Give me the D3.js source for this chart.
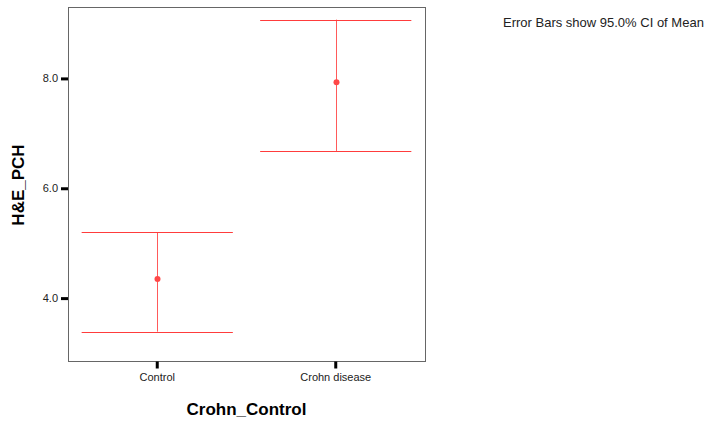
<!DOCTYPE html>
<html>
<head>
<meta charset="utf-8">
<script src="https://cdn.jsdelivr.net/npm/d3@7"></script>
<style>
  body { margin: 0; background: #fff; }
  svg { display: block; font-family: Arial, "Liberation Sans", sans-serif; }
</style>
</head>
<body>
<svg width="709" height="423"></svg>
<script>
// Values
var groups = ["Control", "Crohn disease"];
var means  = [4.35, 7.93];
var lower  = [3.39, 6.68];
var upper  = [5.20, 9.07];
var yTicks = [4.0, 6.0, 8.0];

var svg = d3.select("svg");

// Plot frame (note: "top" is a reserved window property, so use other names)
var plotLeft = 68, plotRight = 425, plotTop = 7, plotBottom = 361;

var x = d3.scaleBand().domain(groups).range([plotLeft, plotRight]).padding(0);
var y = d3.scaleLinear().domain([2.855, 9.30]).range([plotBottom, plotTop]);

// Frame box
svg.append("rect")
    .attr("x", plotLeft + 0.5)
    .attr("y", plotTop + 0.5)
    .attr("width", plotRight - plotLeft)
    .attr("height", plotBottom - plotTop)
    .attr("fill", "none")
    .attr("stroke", "#666")
    .attr("stroke-width", 1);

// Y axis
var yAxis = svg.append("g")
    .attr("transform", "translate(" + plotLeft + ",0)")
    .call(d3.axisLeft(y).tickValues(yTicks).tickSize(7).tickPadding(3).tickFormat(d3.format(".1f")));
yAxis.select(".domain").remove();
yAxis.selectAll(".tick line").attr("stroke", "#000").attr("stroke-width", 3);
yAxis.selectAll(".tick text").attr("font-size", 11).attr("fill", "#222").attr("font-family", "Arial, 'Liberation Sans', sans-serif");

// X axis
var xAxis = svg.append("g")
    .attr("transform", "translate(0," + (plotBottom + 0.5) + ")")
    .call(d3.axisBottom(x).tickSize(7).tickPadding(5));
xAxis.select(".domain").remove();
xAxis.selectAll(".tick line").attr("stroke", "#000").attr("stroke-width", 3);
xAxis.selectAll(".tick text").attr("font-size", 11).attr("fill", "#222").attr("font-family", "Arial, 'Liberation Sans', sans-serif");

// Error bars
var capW = x.bandwidth() * 0.847;
var cx = (d) => { return Math.round(x(d) + x.bandwidth() / 2) + 0.5; };

var bars = svg.append("g").selectAll("g")
    .data(groups)
    .enter().append("g");

bars.append("line")
    .attr("x1", cx)
    .attr("x2", cx)
    .attr("y1", (d, i) => { return y(upper[i]); })
    .attr("y2", (d, i) => { return y(lower[i]); })
    .attr("stroke", "#ff5a5a")
    .attr("stroke-width", 1);

bars.append("line")
    .attr("x1", (d) => { return x(d) + x.bandwidth() / 2 - capW / 2; })
    .attr("x2", (d) => { return x(d) + x.bandwidth() / 2 + capW / 2; })
    .attr("y1", (d, i) => { return Math.round(y(upper[i])) + 0.5; })
    .attr("y2", (d, i) => { return Math.round(y(upper[i])) + 0.5; })
    .attr("stroke", "#ff3c3c")
    .attr("stroke-width", 1);

bars.append("line")
    .attr("x1", (d) => { return x(d) + x.bandwidth() / 2 - capW / 2; })
    .attr("x2", (d) => { return x(d) + x.bandwidth() / 2 + capW / 2; })
    .attr("y1", (d, i) => { return Math.round(y(lower[i])) + 0.5; })
    .attr("y2", (d, i) => { return Math.round(y(lower[i])) + 0.5; })
    .attr("stroke", "#ff3c3c")
    .attr("stroke-width", 1);

// Mean markers
bars.append("circle")
    .attr("cx", cx)
    .attr("cy", (d, i) => { return y(means[i]); })
    .attr("r", 3)
    .attr("fill", "#ff4848");

// Axis titles
svg.append("text")
    .attr("x", (plotLeft + plotRight) / 2)
    .attr("y", 415)
    .attr("text-anchor", "middle")
    .attr("font-size", 17)
    .attr("font-weight", "bold")
    .attr("fill", "#000")
    .text("Crohn_Control");

svg.append("text")
    .attr("transform", "translate(24," + 185 + ") rotate(-90)")
    .attr("text-anchor", "middle")
    .attr("font-size", 17)
    .attr("font-weight", "bold")
    .attr("fill", "#000")
    .text("H&E_PCH");

// Note at top right
svg.append("text")
    .attr("x", 503)
    .attr("y", 27)
    .attr("font-size", 13)
    .attr("fill", "#222")
    .text("Error Bars show 95.0% CI of Mean");
</script>
</body>
</html>
